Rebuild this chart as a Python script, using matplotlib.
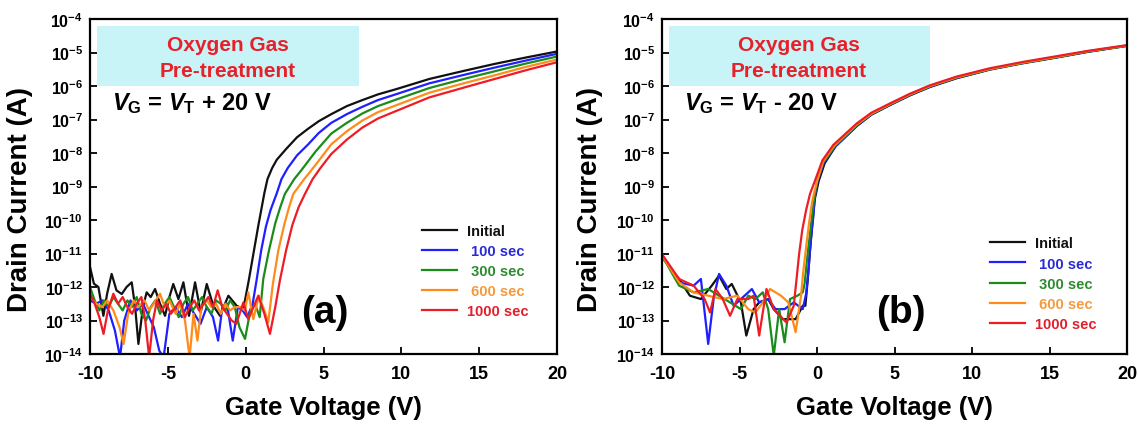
import matplotlib.pyplot as plt
import numpy as np
from matplotlib.patches import Rectangle
from matplotlib.ticker import NullLocator

plt.rcParams['font.family'] = ['Liberation Sans', 'DejaVu Sans']
plt.rcParams['font.weight'] = 'bold'
plt.rcParams['axes.labelweight'] = 'bold'
plt.rcParams['mathtext.fontset'] = 'custom'
plt.rcParams['mathtext.rm'] = 'Liberation Sans:bold'
plt.rcParams['mathtext.bf'] = 'Liberation Sans:bold'
plt.rcParams['mathtext.it'] = 'Liberation Sans:italic:bold'
plt.rcParams['axes.unicode_minus'] = False

# ---- panel (a): V_G = V_T + 20 V  (gate voltage in V, drain current as log10(A))
a_init_v = [-10.0, -9.75, -9.46, -9.14, -8.9, -8.61, -8.3, -7.96, -7.65, -7.32, -7.1, -6.89, -6.6, -6.36,
            -6.1, -5.82, -5.5, -5.18, -4.9, -4.65, -4.32, -4.0, -3.64, -3.25, -2.89, -2.5, -2.08, -1.65,
            -1.11, -0.58, -0.15, 0.2, 0.5, 0.8, 1.0, 1.2, 1.4, 1.7, 2.0, 2.6, 3.3, 4.0, 4.7, 5.5, 6.5,
            7.5, 8.5, 9.7, 11.8, 14.0, 16.0, 18.0, 20.0]
a_init_log = [-11.4, -11.9, -12.0, -12.86, -12.2, -11.61, -12.1, -12.21, -12.0, -11.86, -12.6, -13.7, -12.6,
              -12.16, -12.3, -12.06, -12.5, -12.86, -12.3, -11.91, -12.36, -11.86, -12.86, -11.86, -12.76,
              -11.91, -12.56, -12.86, -12.26, -12.56, -12.66, -11.8, -11.0, -10.2, -9.7, -9.2, -8.78, -8.45,
              -8.2, -7.88, -7.53, -7.28, -7.05, -6.84, -6.6, -6.42, -6.25, -6.09, -5.79, -5.55, -5.34,
              -5.15, -4.97]

a_100_v = [-10.0, -9.6, -9.2, -8.8, -8.4, -8.07, -7.8, -7.4, -7.0, -6.6, -6.2, -5.9, -5.55, -5.27, -4.9,
           -4.5, -4.1, -3.7, -3.3, -2.9, -2.5, -2.1, -1.77, -1.5, -1.2, -0.83, -0.5, -0.2, 0.1, 0.45, 0.7,
           1.0, 1.3, 1.6, 2.0, 2.3, 2.7, 3.3, 4.0, 4.7, 5.5, 6.5, 7.5, 8.5, 9.7, 11.8, 14.0, 16.0, 18.0, 20.0]
a_100_log = [-12.4, -12.5, -12.4, -12.7, -13.3, -14.1, -13.0, -12.4, -12.7, -12.5, -12.9, -13.2, -13.9,
             -14.1, -12.8, -12.6, -12.9, -12.5, -12.8, -13.1, -12.6, -12.9, -13.6, -12.6, -12.5, -13.6,
             -12.6, -12.7, -12.9, -12.5, -11.8, -10.9, -10.2, -9.7, -9.2, -8.78, -8.45, -8.07, -7.75,
             -7.4, -7.1, -6.84, -6.62, -6.42, -6.24, -5.92, -5.67, -5.45, -5.24, -5.04]

a_300_v = [-10.0, -9.7, -9.4, -9.1, -8.8, -8.5, -8.2, -7.9, -7.6, -7.3, -7.0, -6.7, -6.4, -6.1, -5.8,
           -5.5, -5.2, -4.9, -4.6, -4.3, -4.0, -3.7, -3.4, -3.1, -2.8, -2.5, -2.2, -1.9, -1.6, -1.3, -1.0,
           -0.7, -0.4, -0.04, 0.3, 0.6, 0.9, 1.13, 1.5, 1.9, 2.2, 2.52, 3.12, 3.6, 4.5, 5.5, 6.5, 7.5,
           8.5, 9.7, 11.8, 14.0, 16.0, 18.0, 20.0]
a_300_log = [-12.0, -12.4, -12.7, -12.4, -12.6, -12.3, -12.5, -12.7, -12.4, -12.6, -12.3, -12.8, -13.0,
             -12.6, -12.4, -12.8, -12.5, -12.3, -12.6, -12.9, -12.5, -12.3, -12.7, -12.5, -12.3, -12.6,
             -12.8, -12.4, -12.5, -12.7, -12.4, -12.6, -13.2, -13.55, -12.7, -12.5, -12.9, -11.76, -10.9,
             -10.1, -9.65, -9.22, -8.78, -8.5, -7.95, -7.42, -7.1, -6.82, -6.6, -6.4, -6.06, -5.79, -5.56,
             -5.33, -5.12]

a_600_v = [-10.0, -9.6, -9.2, -8.9, -8.5, -8.1, -7.84, -7.55, -7.2, -6.9, -6.5, -6.2, -5.9, -5.5, -5.2,
           -4.9, -4.5, -4.2, -3.9, -3.6, -3.35, -3.1, -2.85, -2.5, -2.2, -1.9, -1.6, -1.3, -1.0, -0.7,
           -0.35, -0.05, 0.17, 0.49, 0.85, 1.2, 1.45, 1.75, 2.1, 2.5, 2.8, 3.06, 3.76, 4.5, 5.5, 6.5, 7.5,
           8.5, 9.7, 11.8, 14.0, 16.0, 18.0, 20.0]
a_600_log = [-12.3, -12.5, -12.6, -12.4, -12.7, -13.2, -13.7, -12.8, -12.4, -12.6, -12.4, -12.7, -12.5,
             -12.2, -12.6, -12.4, -12.8, -12.5, -13.0, -14.1, -12.8, -13.6, -12.6, -12.4, -12.6, -12.5,
             -12.8, -12.5, -12.7, -12.6, -12.6, -12.7, -12.16, -12.96, -12.26, -12.7, -13.06, -11.9,
             -10.9, -10.1, -9.6, -9.22, -8.78, -8.35, -7.74, -7.35, -7.03, -6.78, -6.57, -6.2, -5.92,
             -5.68, -5.43, -5.21]

a_1000_v = [-10.0, -9.7, -9.4, -9.13, -8.85, -8.5, -8.2, -7.9, -7.6, -7.3, -7.0, -6.7, -6.45, -6.2, -5.95,
            -5.7, -5.4, -5.1, -4.8, -4.5, -4.2, -3.9, -3.6, -3.3, -3.0, -2.7, -2.4, -2.1, -1.8, -1.5, -1.2,
            -0.9, -0.6, -0.15, 0.17, 0.5, 0.81, 1.2, 1.56, 1.9, 2.2, 2.6, 3.0, 3.4, 3.81, 4.3, 4.8, 5.5,
            6.5, 7.5, 8.5, 9.7, 11.8, 14.0, 16.0, 18.0, 20.0]
a_1000_log = [-12.2, -12.5, -12.9, -13.4, -12.7, -12.2, -12.5, -12.3, -12.6, -12.8, -12.5, -12.3, -13.0,
              -14.1, -13.0, -12.4, -12.7, -12.5, -12.8, -12.6, -12.4, -12.9, -12.6, -12.4, -12.7, -12.5,
              -12.3, -12.6, -12.1, -12.6, -12.8, -13.0, -13.1, -12.46, -12.96, -12.6, -12.26, -12.8,
              -13.4, -12.6, -11.8, -10.9, -10.15, -9.62, -9.22, -8.78, -8.45, -8.03, -7.6, -7.24, -6.97,
              -6.74, -6.34, -6.05, -5.79, -5.53, -5.29]

# ---- panel (b): V_G = V_T - 20 V
b_init_v = [-10.0, -8.9, -8.2, -7.49, -6.79, -6.32, -5.85, -5.5, -4.91, -4.56, -4.09, -3.73, -3.15, -2.79,
            -2.21, -1.38, -0.92, -0.75, -0.6, -0.45, -0.3, -0.13, 0.1, 0.5, 1.2, 2.56, 3.5, 4.71, 6.0,
            7.29, 9.0, 11.16, 13.3, 15.46, 17.5, 20.0]
b_init_log = [-11.11, -11.76, -12.26, -12.36, -11.96, -11.66, -12.06, -11.91, -12.46, -13.45, -12.66,
              -12.46, -12.36, -12.66, -12.96, -12.96, -12.56, -12.56, -11.8, -10.9, -10.1, -9.35, -8.85,
              -8.3, -7.8, -7.2, -6.86, -6.57, -6.28, -6.03, -5.77, -5.51, -5.32, -5.15, -4.98, -4.8]

b_100_v = [-10.0, -8.9, -7.96, -7.49, -7.02, -6.67, -6.32, -5.85, -5.38, -4.91, -4.2, -3.73, -3.15, -2.68,
           -2.09, -1.5, -0.92, -0.7, -0.55, -0.4, -0.25, -0.15, 0.05, 0.45, 1.2, 2.56, 3.5, 4.71, 6.0, 7.29,
           9.0, 11.16, 13.3, 15.46, 17.5, 20.0]
b_100_log = [-11.06, -11.86, -11.96, -11.76, -13.7, -12.36, -11.61, -11.96, -12.56, -12.36, -12.06,
             -12.46, -12.36, -12.66, -12.66, -12.46, -12.66, -12.2, -11.5, -10.6, -9.95, -9.3, -8.82,
             -8.28, -7.8, -7.19, -6.85, -6.56, -6.27, -6.02, -5.76, -5.5, -5.31, -5.14, -4.97, -4.8]

b_300_v = [-10.0, -8.9, -7.96, -7.02, -6.32, -5.61, -4.91, -4.44, -3.97, -3.5, -3.15, -2.79, -2.44, -2.09,
           -1.74, -1.27, -0.92, -0.8, -0.6, -0.4, -0.25, -0.15, 0.0, 0.4, 1.15, 2.56, 3.5, 4.71, 6.0, 7.29,
           9.0, 11.16, 13.3, 15.46, 17.5, 20.0]
b_300_log = [-11.06, -11.96, -12.16, -12.06, -12.26, -12.46, -12.66, -12.26, -12.36, -12.16, -12.66,
             -14.05, -12.66, -13.65, -12.36, -12.26, -12.16, -11.9, -11.0, -10.2, -9.6, -9.27, -8.85,
             -8.28, -7.8, -7.17, -6.84, -6.55, -6.26, -6.01, -5.75, -5.5, -5.31, -5.14, -4.97, -4.8]

b_600_v = [-10.0, -8.9, -7.96, -7.02, -6.08, -5.14, -4.44, -3.97, -3.5, -3.03, -2.32, -1.85, -1.38, -1.03,
           -0.9, -0.7, -0.5, -0.33, -0.2, 0.0, 0.4, 1.1, 2.56, 3.5, 4.71, 6.0, 7.29, 9.0, 11.16, 13.3,
           15.46, 17.5, 20.0]
b_600_log = [-11.06, -11.86, -12.16, -12.26, -12.36, -12.26, -12.66, -12.76, -12.46, -12.06, -12.26,
             -12.46, -13.35, -12.26, -11.6, -10.8, -10.05, -9.5, -9.22, -8.85, -8.25, -7.78, -7.15,
             -6.83, -6.54, -6.25, -6.0, -5.74, -5.49, -5.3, -5.13, -4.96, -4.79]

b_1000_v = [-10.0, -8.9, -7.96, -7.25, -6.9, -6.55, -6.08, -5.61, -5.14, -4.44, -4.09, -3.73, -3.26, -2.79,
            -1.97, -1.5, -1.35, -1.15, -0.95, -0.7, -0.45, -0.15, 0.35, 1.05, 2.56, 3.5, 4.71, 6.0, 7.29,
            9.0, 11.16, 13.3, 15.46, 17.5, 20.0]
b_1000_log = [-11.02, -11.76, -11.96, -12.36, -12.76, -12.06, -12.36, -12.86, -12.36, -12.36, -12.26,
              -13.45, -12.06, -12.66, -13.06, -12.56, -11.9, -11.0, -10.3, -9.7, -9.22, -8.85, -8.22,
              -7.76, -7.12, -6.8, -6.52, -6.23, -5.98, -5.72, -5.47, -5.28, -5.11, -4.95, -4.78]

labels = ['Initial', ' 100 sec', ' 300 sec', ' 600 sec', '1000 sec']
line_colors = ['#111111', '#1f1fff', '#1a8c1a', '#ff8c1a', '#ee1c25']
text_colors = ['#111111', '#2b2bd6', '#2e8b2e', '#f39a3c', '#e0202c']
x_ticks = [-10, -5, 0, 5, 10, 15, 20]
y_exps = [-14, -13, -12, -11, -10, -9, -8, -7, -6, -5, -4]

panel_a = [(a_init_v, a_init_log), (a_100_v, a_100_log), (a_300_v, a_300_log),
           (a_600_v, a_600_log), (a_1000_v, a_1000_log)]
panel_b = [(b_init_v, b_init_log), (b_100_v, b_100_log), (b_300_v, b_300_log),
           (b_600_v, b_600_log), (b_1000_v, b_1000_log)]

fig = plt.figure(figsize=(11.38, 4.27), dpi=100)
ax_a = fig.add_axes([90 / 1138, 1 - 355 / 427, 467 / 1138, 335 / 427])
ax_b = fig.add_axes([662 / 1138, 1 - 355 / 427, 465 / 1138, 335 / 427])


def draw_panel(ax, series, vg_text, letter, leg_anchor, letter_x, ylab_x):
    for (v, logi), col, lab in zip(series, line_colors, labels):
        ax.plot(v, np.power(10.0, logi), color=col, lw=1.6, label=lab)

    ax.set_yscale('log')
    ax.set_xlim(-10, 20)
    ax.set_ylim(1e-14, 1e-4)
    ax.set_xticks(x_ticks)
    ax.set_xticklabels([str(t) for t in x_ticks])
    ax.set_yticks([10.0 ** e for e in y_exps])
    ax.set_yticklabels([r'$\mathbf{10^{%d}}$' % e for e in y_exps])
    ax.yaxis.set_minor_locator(NullLocator())
    ax.tick_params(axis='x', direction='in', length=5, width=1.3, labelsize=13, pad=8)
    ax.tick_params(axis='y', direction='in', length=5, width=1.3, labelsize=11.5, pad=5)
    for sp in ax.spines.values():
        sp.set_linewidth(1.6)

    ax.set_xlabel('Gate Voltage (V)', fontsize=18.5, fontweight='bold')
    ax.xaxis.set_label_coords(0.5, -0.122)
    ax.set_ylabel('Drain Current (A)', fontsize=20, fontweight='bold')
    ax.yaxis.set_label_coords(ylab_x, 0.465)

    ax.add_patch(Rectangle((0.014, 0.8), 0.562, 0.18, transform=ax.transAxes,
                           facecolor='#c9f4f7', edgecolor='none', zorder=0))
    ax.text(0.295, 0.925, 'Oxygen Gas', color='#e8202a', fontsize=15,
            ha='center', va='center', transform=ax.transAxes)
    ax.text(0.295, 0.846, 'Pre-treatment', color='#e8202a', fontsize=15,
            ha='center', va='center', transform=ax.transAxes)
    ax.text(0.047, 0.75, vg_text, fontsize=17, ha='left', va='center', transform=ax.transAxes)
    ax.text(letter_x, 0.125, letter, fontsize=28, ha='center', va='center', transform=ax.transAxes)

    leg = ax.legend(loc='upper left', bbox_to_anchor=leg_anchor, frameon=False, fontsize=10.5,
                    handlelength=2.4, handletextpad=0.7, labelspacing=0.42, borderpad=0,
                    borderaxespad=0)
    for txt, col in zip(leg.get_texts(), text_colors):
        txt.set_color(col)


draw_panel(ax_a, panel_a, r'$\mathit{V}_\mathbf{G}$ = $\mathit{V}_\mathbf{T}$ + 20 V', '(a)',
           (0.711, 0.389), 0.503, -0.122)
draw_panel(ax_b, panel_b, r'$\mathit{V}_\mathbf{G}$ = $\mathit{V}_\mathbf{T}$ - 20 V', '(b)',
           (0.705, 0.351), 0.514, -0.127)

fig.savefig('out.png', dpi=100)
